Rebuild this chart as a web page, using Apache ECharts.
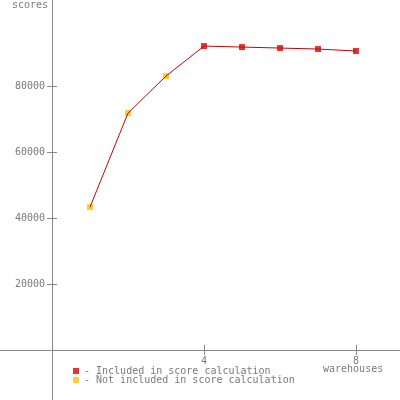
<!DOCTYPE html>
<html><head><meta charset="utf-8">
<script src="https://cdn.jsdelivr.net/npm/echarts@6/dist/echarts.min.js"></script>
<style>html,body{margin:0;padding:0;background:#fff}#c{width:400px;height:400px}</style>
</head><body><div id="c"></div>
<script>
const warehouses = [1, 2, 3, 4, 5, 6, 7, 8];
const scores = [43300, 71800, 83000, 92100, 91800, 91500, 91200, 90600];
const included = [false, false, false, true, true, true, true, true];
const xTicks = [4, 8];
const yTicks = [20000, 40000, 60000, 80000];
const legendNames = ['Included in score calculation', 'Not included in score calculation'];

const allPts = warehouses.map((w, i) => [w, scores[i]]);
const incPts = allPts.filter((p, i) => included[i]);
const notPts = allPts.filter((p, i) => !included[i]);

const font = 'DejaVu Sans Mono';
const gray = '#7a7a7a';
const PX = 38, PY = 66 / 20000;
const X0 = 52, Y0 = 350;

// grid 0: full canvas, draws crossing axis lines and outer ticks
function lineAxis(dim) {
  const isX = dim === 'x';
  return {
    type: 'value', gridIndex: 0,
    min: isX ? -X0 / PX : -(400 - Y0) / PY,
    max: isX ? (400 - X0) / PX : Y0 / PY,
    splitLine: {show: false},
    axisLine: {show: true, onZero: true, lineStyle: {color: '#888', width: 1}},
    axisTick: {show: true, inside: false, length: 5, customValues: isX ? xTicks : yTicks, lineStyle: {color: '#888'}},
    axisLabel: {show: false}
  };
}
// grid 1: data area, labels and inner ticks
function dataAxis(dim) {
  const isX = dim === 'x';
  return {
    type: 'value', gridIndex: 1, min: 0,
    max: isX ? (400 - X0) / PX : Y0 / PY,
    splitLine: {show: false}, axisLine: {show: false},
    axisTick: {show: true, inside: true, length: 5, customValues: isX ? xTicks : yTicks, lineStyle: {color: '#888'}},
    axisLabel: {show: true, customValues: isX ? xTicks : yTicks, margin: isX ? 6 : 7,
      color: gray, fontFamily: font, fontSize: 10, formatter: function (v) { return '' + v; }}
  };
}

const chart = echarts.init(document.getElementById('c'), null, {renderer: 'canvas'});
chart.setOption({
  animation: false,
  grid: [
    {left: 0, right: 0, top: 0, bottom: 0, containLabel: false},
    {left: X0, right: 0, top: 0, bottom: 400 - Y0, containLabel: false}
  ],
  title: {text: 'scores', left: 7, top: -5, textStyle: {color: gray, fontFamily: font, fontSize: 10, fontWeight: 'normal'}},
  xAxis: [lineAxis('x'), dataAxis('x')],
  yAxis: [lineAxis('y'), dataAxis('y')],
  legend: {
    orient: 'vertical', left: 68, top: 361, itemWidth: 6, itemHeight: 6, itemGap: -1,
    icon: 'rect', formatter: n => '- ' + n,
    textStyle: {color: gray, fontFamily: font, fontSize: 10, lineHeight: 9},
    data: legendNames
  },
  graphic: [{type: 'text', left: 323, top: 364, style: {text: 'warehouses', fill: gray, font: '10px "DejaVu Sans Mono"'}}],
  series: [
    {type: 'line', xAxisIndex: 1, yAxisIndex: 1, data: allPts, showSymbol: false, lineStyle: {color: '#c80000', width: 1}, silent: true},
    {type: 'scatter', xAxisIndex: 1, yAxisIndex: 1, name: legendNames[0], data: incPts, symbol: 'rect', symbolSize: 6, itemStyle: {color: '#e00000'}},
    {type: 'scatter', xAxisIndex: 1, yAxisIndex: 1, name: legendNames[1], data: notPts, symbol: 'rect', symbolSize: 6, itemStyle: {color: '#ffc000'}}
  ]
});
</script></body></html>
